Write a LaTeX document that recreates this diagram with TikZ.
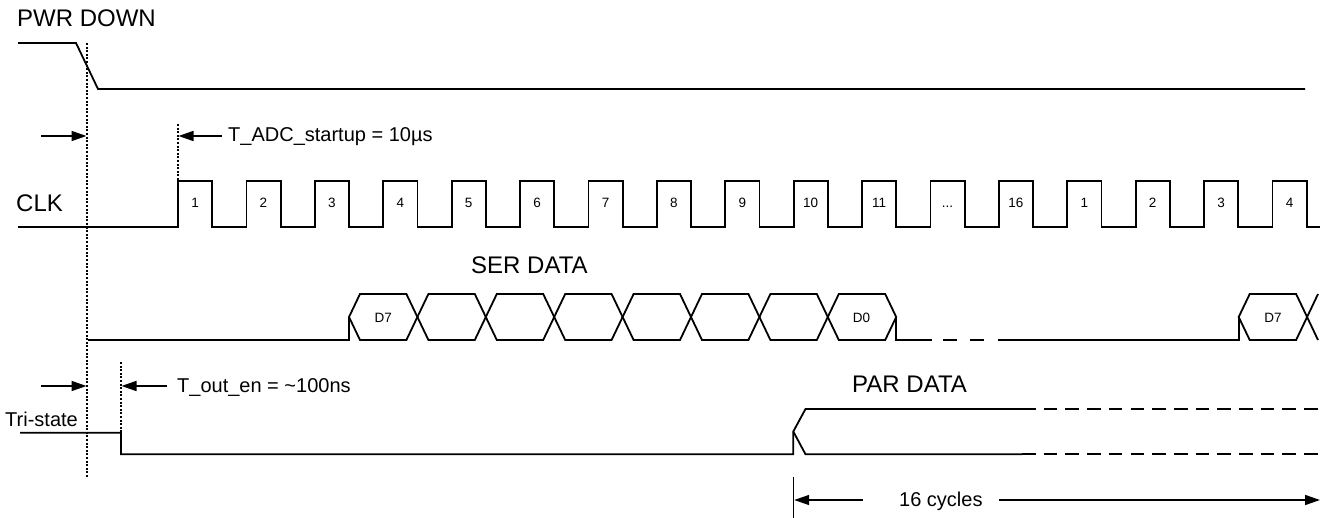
\documentclass[tikz,border=0pt]{standalone}
\usepackage{fontspec}
\setmainfont{Liberation Sans}
\usetikzlibrary{arrows.meta}

\newcommand{\clkgap}{...}

\begin{document}
\begin{tikzpicture}[x=1pt,y=-1pt,
	sig/.style={line width=1.8pt,line join=miter},
	guide/.style={line width=1.3pt,dash pattern=on 2pt off 1.6pt},
	dim/.style={line width=1.6pt,-{Triangle[length=15pt,width=10pt]}},
	biglbl/.style={font=\fontsize{24}{28}\selectfont,inner sep=0pt},
	midlbl/.style={font=\fontsize{20}{24}\selectfont,inner sep=0pt},
	smalllbl/.style={font=\fontsize{13.5}{16}\selectfont,inner sep=0pt}]
	\useasboundingbox (0,0) rectangle (1323,518);

	% signal names
	\node[biglbl,anchor=base west] (pwr) at (17,27) {PWR DOWN};
	\node[biglbl,anchor=base west] (clk) at (16,212) {CLK};
	\node[biglbl,anchor=base west] (ser) at (471,274) {SER DATA};
	\node[biglbl,anchor=base west] (par) at (852,393) {PAR DATA};
	\node[midlbl,anchor=base west] (tri) at (5,427) {Tri-state};

	% power down
	\draw[sig] (18,43) -- (76,43) -- (98,89) -- (1305,89);

	% clock, 17 pulses
	\draw[sig] (18,227) -- (178,227)
		\foreach \k in {0,...,15} { -- ++(0,-46) -- ++(34.2,0) -- ++(0,46) -- ++(34.2,0) }
		-- ++(0,-46) -- ++(34.2,0) -- ++(0,46) -- ++(13,0);
	\foreach \lbl [count=\i from 0] in {1,2,3,4,5,6,7,8,9,10,11,\clkgap,16,1,2,3,4}
		\node[smalllbl,anchor=base] (c\i) at (178+17.1+68.4*\i,207.5) {\lbl};

	% serial data
	\draw[sig] (88,340) -- (349,340) -- (349,317);
	\foreach \j in {0,...,7}
		\draw[sig] (349+68.4*\j,317) -- ++(11,-23) -- ++(46.4,0) -- ++(11,23)
			-- ++(-11,23) -- ++(-46.4,0) -- cycle;
	\node[smalllbl,anchor=base] (d7a) at (383.2,322.3) {D7};
	\node[smalllbl,anchor=base] (d0) at (861.6,322.3) {D0};
	\draw[sig] (896.2,317) -- (896.2,340) -- (932,340);
	\foreach \d in {943,970}
		\draw[sig] (\d,340) -- ++(14,0);
	\draw[sig] (998,340) -- (1238.7,340) -- (1238.7,317);
	\draw[sig] (1238.7,317) -- ++(11,-23) -- ++(46.4,0) -- ++(11,23)
		-- ++(-11,23) -- ++(-46.4,0) -- cycle;
	\draw[sig] (1318,294) -- (1307.1,317) -- (1318,340);
	\node[smalllbl,anchor=base] (d7b) at (1272.9,322.3) {D7};

	% parallel data
	\draw[sig] (20,432.7) -- (121,432.7) -- (121,454.3) -- (793.3,454.3)
		-- (793.3,431.5) -- (805.5,409) -- (1022,409);
	\draw[sig] (793.3,431.5) -- (805.5,454.3) -- (1022,454.3);
	\draw[sig,dash pattern=on 13.6pt off 8.1pt] (1022,409) -- (1320,409);
	\draw[sig,dash pattern=on 13.6pt off 8.1pt] (1022,454.3) -- (1320,454.3);

	% timing marks
	\draw[guide] (87,43) -- (87,477);
	\draw[guide] (178,124) -- (178,181);
	\draw[guide] (121,362) -- (121,433);
	\coordinate (pdA) at (41,136);
	\coordinate (pdB) at (41,386);
	\node[midlbl,anchor=base west] (tadc) at (228,141.5) {T\_ADC\_startup = 10µs};
	\node[midlbl,anchor=base west] (toen) at (177,392.3) {T\_out\_en = \textasciitilde100ns};
	\draw[dim] (pdA) -- (86.5,136);
	\draw[dim] (222,136) -- (178.5,136);
	\draw[dim] (pdB) -- (86.5,386);
	\draw[dim] (167,386) -- (121.5,386);

	% 16 cycles
	\draw[line width=1.6pt] (793.3,477) -- (793.3,518);
	\node[midlbl,anchor=base west] (cyc) at (899,506) {16 cycles};
	\draw[dim] (862.7,500) -- (794.2,500);
	\draw[dim] (999,500) -- (1320,500);
\end{tikzpicture}
\end{document}
